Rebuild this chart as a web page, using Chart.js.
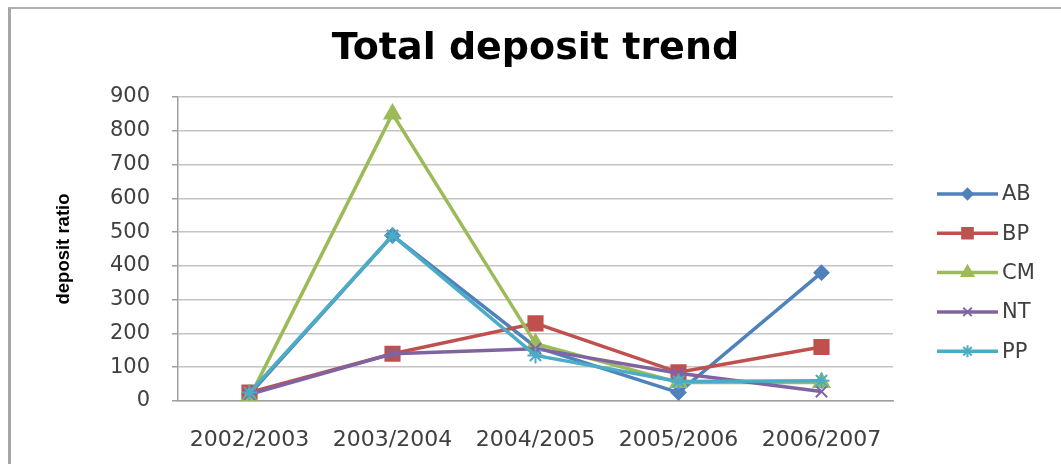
<!DOCTYPE html>
<html>
<head>
<meta charset="utf-8">
<script src="https://cdn.jsdelivr.net/npm/chart.js@4.4.1/dist/chart.umd.min.js"></script>
<style>
  html, body { margin: 0; padding: 0; background: #ffffff; }
  #wrap { position: relative; width: 1061px; height: 464px; overflow: hidden; }
  #frame { position: absolute; left: 8px; top: 7px; width: 1200px; height: 600px;
           border-left: 3px solid #a6a6a6; border-top: 2px solid #b0b0b0; box-sizing: border-box; pointer-events: none; }
  canvas { position: absolute; left: 0; top: 0; }
</style>
</head>
<body>
<div id="wrap">
  <canvas id="c" width="1061" height="464"></canvas>
  <div id="frame"></div>
</div>
<script>
const categories = ["2002/2003", "2003/2004", "2004/2005", "2005/2006", "2006/2007"];
const seriesNames = ["AB", "BP", "CM", "NT", "PP"];
const AB = [20, 490, 160, 25, 380];
const BP = [25, 140, 230, 85, 160];
const CM = [10, 850, 170, 55, 55];
const NT = [20, 140, 155, 82, 28];
const PP = [25, 490, 135, 58, 60];
const yTicks = [0, 100, 200, 300, 400, 500, 600, 700, 800, 900];

const colors = ["#4F81BD", "#C0504D", "#9BBB59", "#8064A2", "#4BACC6"];
const styles = ["rectRot", "rect", "triangle", "crossRot", "star"];
const radii = [7, 10, 9, 8, 8];
const values = [AB, BP, CM, NT, PP];

const datasets = seriesNames.map((n, i) => ({
  label: n,
  data: values[i],
  borderColor: colors[i],
  backgroundColor: colors[i],
  pointBackgroundColor: colors[i],
  pointBorderColor: colors[i],
  pointStyle: styles[i],
  pointRadius: radii[i],
  pointBorderWidth: 2,
  borderWidth: 3.5,
  tension: 0,
  order: seriesNames.length - i
}));

const sideLegend = {
  id: 'sideLegend',
  afterDraw(chart) {
    const ctx = chart.ctx;
    const x1 = chart.chartArea.right + 44, x2 = x1 + 61, xm = (x1 + x2) / 2;
    const y0 = 194, dy = 39.3;
    ctx.save();
    chart.data.datasets.forEach((ds, i) => {
      const y = y0 + i * dy;
      ctx.strokeStyle = ds.borderColor;
      ctx.lineWidth = 3.5;
      ctx.beginPath(); ctx.moveTo(x1, y); ctx.lineTo(x2, y); ctx.stroke();
      ctx.fillStyle = ds.backgroundColor;
      ctx.lineWidth = 2;
      Chart.helpers.drawPoint(ctx, { pointStyle: ds.pointStyle, radius: ds.pointRadius * 0.75, borderWidth: 2, rotation: 0 }, xm, y);
      ctx.fillStyle = '#404040';
      ctx.font = '21px "DejaVu Sans"';
      ctx.textBaseline = 'middle';
      ctx.textAlign = 'left';
      ctx.fillText(ds.label, x2 + 4, y + 1);
    });
    ctx.restore();
  }
};

new Chart(document.getElementById('c'), {
  type: 'line',
  data: { labels: categories, datasets },
  plugins: [sideLegend],
  options: {
    responsive: false,
    animation: false,
    layout: { padding: { left: 10, right: 168, top: 0, bottom: 0 } },
    plugins: {
      legend: { display: false },
      tooltip: { enabled: false },
      title: {
        display: true,
        text: 'Total deposit trend',
        fullSize: false,
        color: '#000000',
        font: { family: '"DejaVu Sans"', size: 38, weight: 'bold', lineHeight: 1.2 },
        padding: { top: 26, bottom: 25.4 }
      }
    },
    scales: {
      x: {
        type: 'category',
        offset: true,
        afterFit(s) { s.height = 63; },
        grid: { display: false },
        border: { display: true, color: '#a0a0a0', width: 1.5 },
        ticks: { color: '#404040', font: { family: '"DejaVu Sans"', size: 22 }, padding: 18, maxRotation: 0, autoSkip: false }
      },
      y: {
        min: 0, max: 900,
        afterFit(s) { s.width = 168; },
        afterBuildTicks(s) { s.ticks = yTicks.map(v => ({ value: v })); },
        grid: { color: '#c4c4c4', lineWidth: 1.5, tickLength: 6, tickColor: '#a0a0a0' },
        border: { display: true, color: '#a0a0a0', width: 1.5 },
        ticks: { color: '#404040', font: { family: '"DejaVu Sans"', size: 21 }, padding: 22 },
        title: {
          display: true,
          text: 'deposit ratio',
          color: '#000000',
          font: { family: '"Liberation Sans", Arial, sans-serif', size: 18.5, weight: 'bold', lineHeight: 1.2 },
          padding: { top: 43, bottom: 0 }
        }
      }
    }
  }
});
</script>
</body>
</html>
